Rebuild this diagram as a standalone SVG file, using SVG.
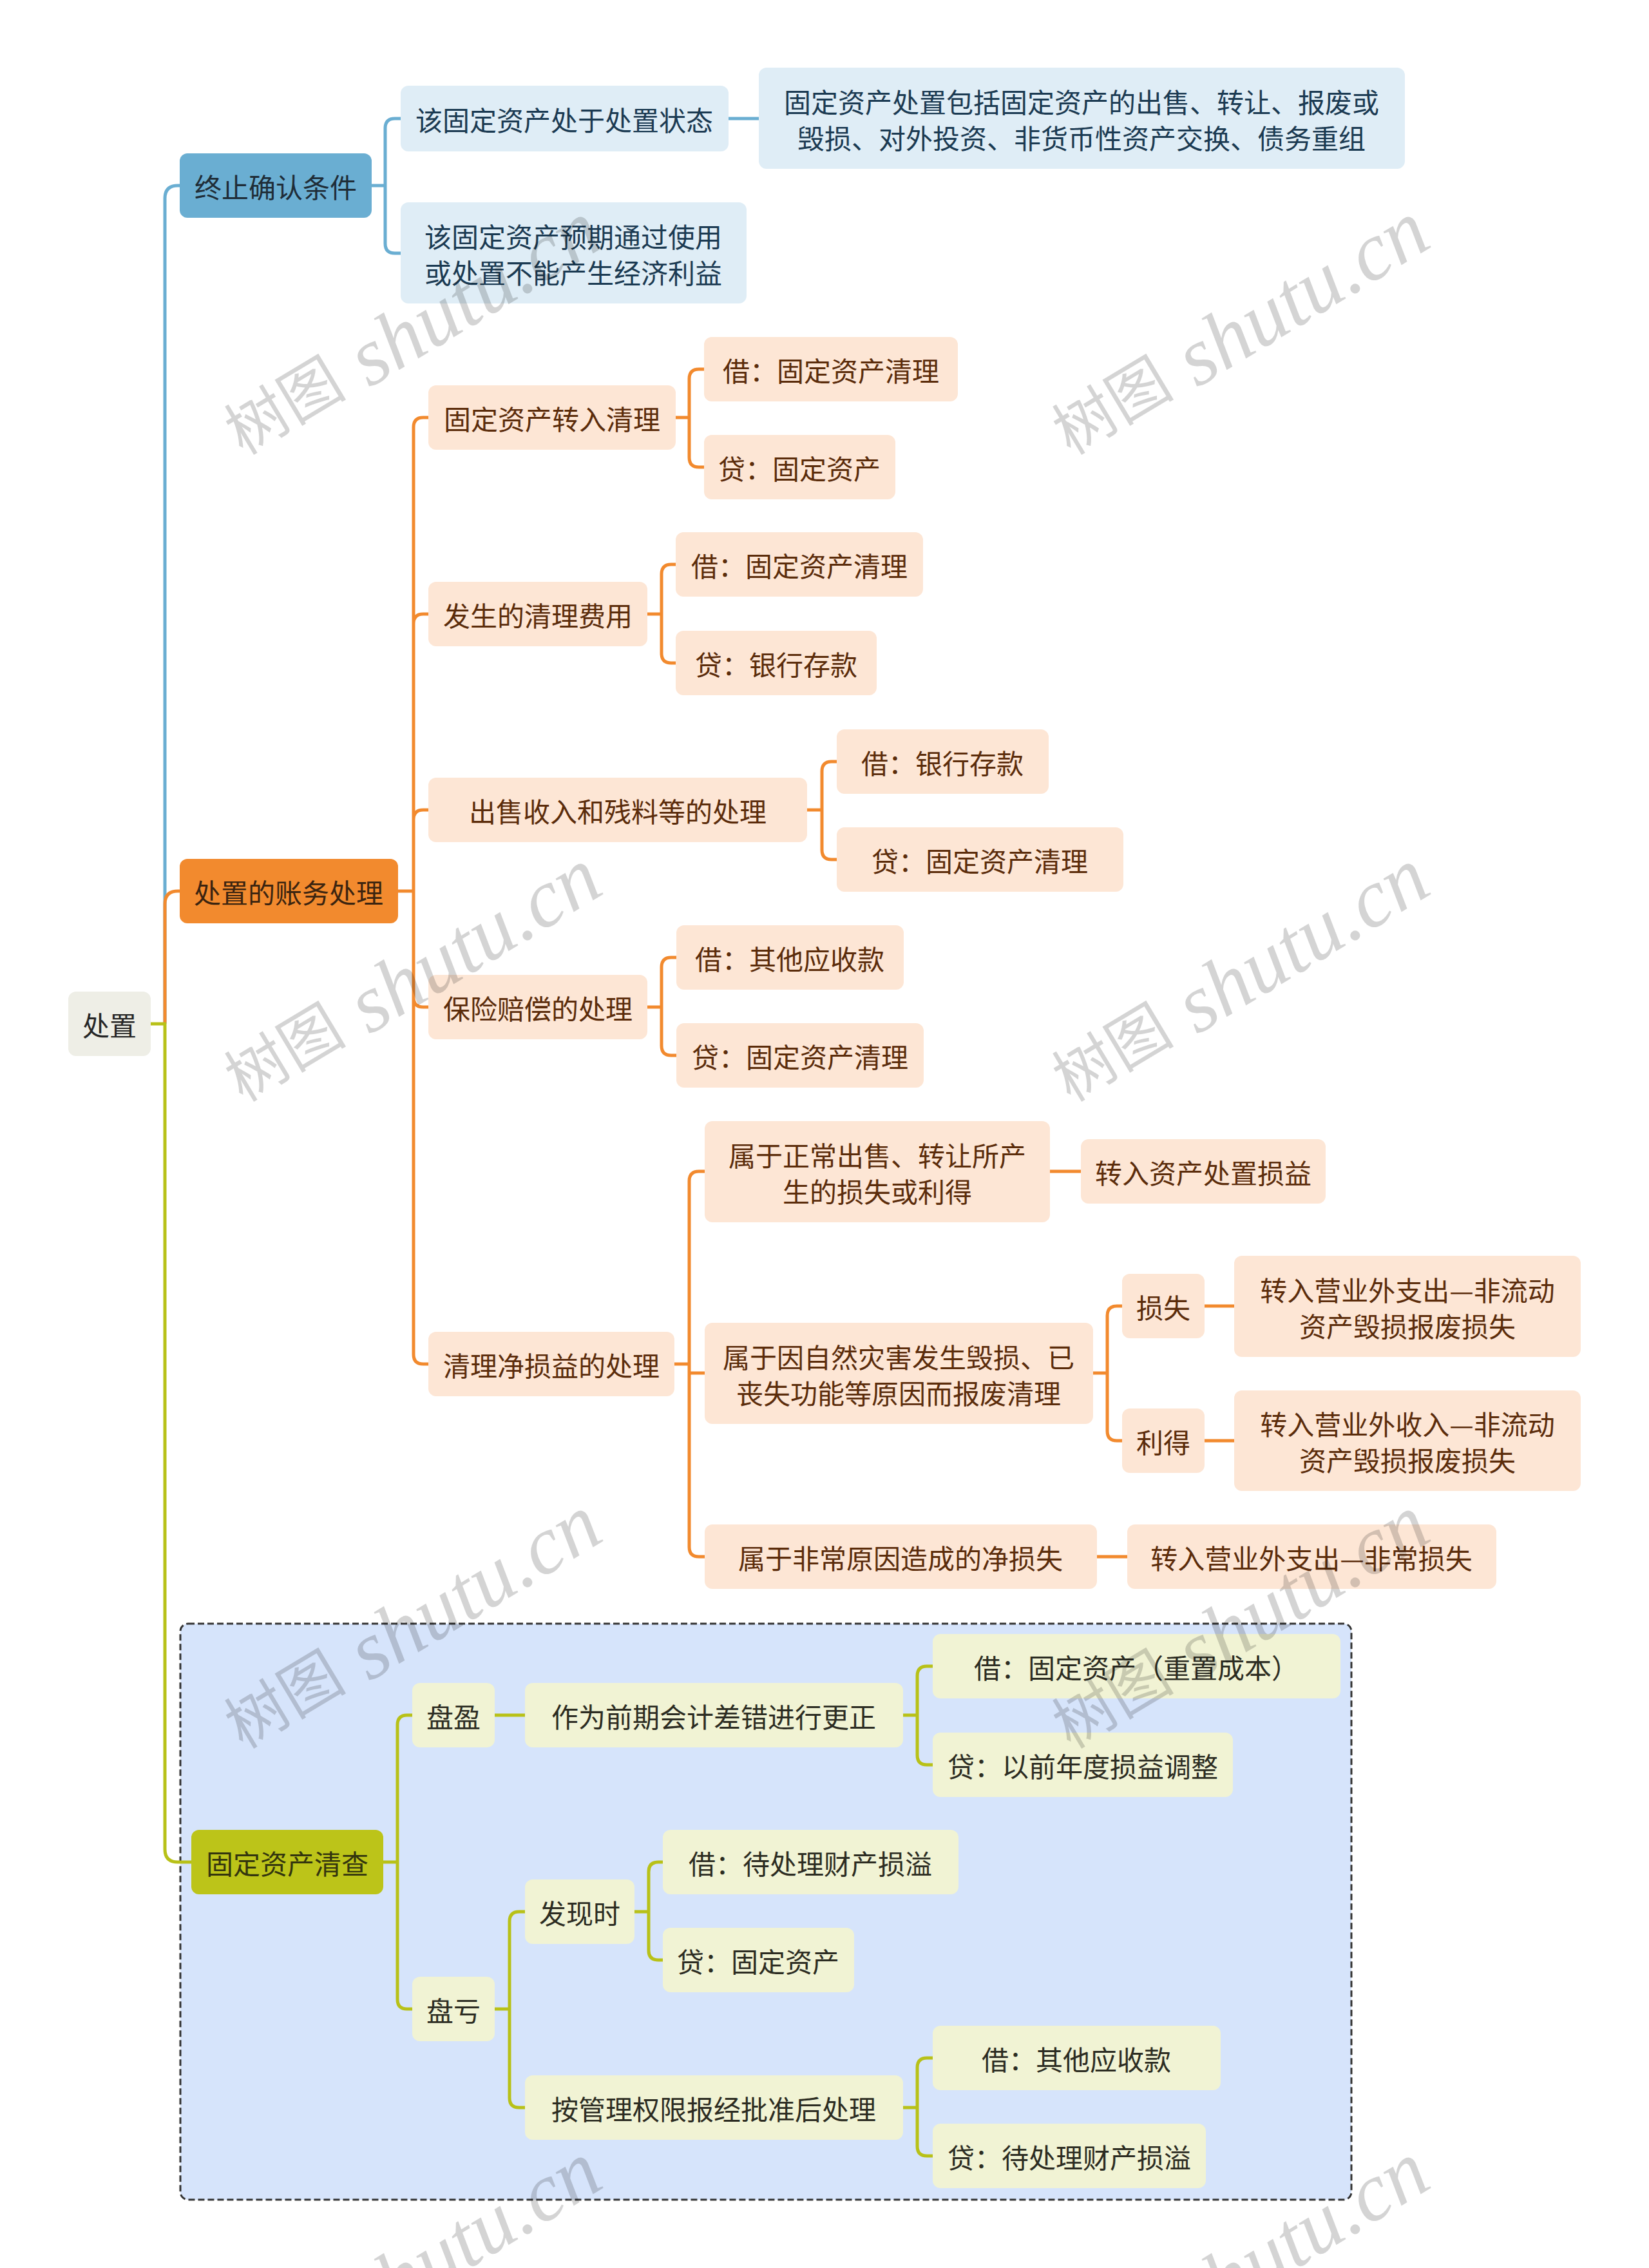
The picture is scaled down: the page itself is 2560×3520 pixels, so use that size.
<svg xmlns="http://www.w3.org/2000/svg" width="2560" height="3520" viewBox="0 0 2560 3520">
<style>
.t{font-family:"Noto Sans CJK SC","Noto Sans",sans-serif;font-size:42px;text-anchor:middle;dominant-baseline:central}
.root rect{fill:#eeeee6}.root text{fill:#262626}
.b1 rect{fill:#6aaed2}.b1 text{fill:#1f2d38}
.b2 rect{fill:#dfedf6}.b2 text{fill:#1b3a52}
.o1 rect{fill:#f28a2e}.o1 text{fill:#3b2410}
.o2 rect{fill:#fde6d5}.o2 text{fill:#5b2c0b}
.g1 rect{fill:#bcc419}.g1 text{fill:#33350e}
.g2 rect{fill:#f1f3d4}.g2 text{fill:#2c2c22}
.cb{fill:none;stroke:#6aaed2;stroke-width:5}
.co{fill:none;stroke:#f28a2e;stroke-width:5}
.cg{fill:none;stroke:#b8c118;stroke-width:5}
.wm{font-family:"Liberation Serif","Noto Sans CJK SC",serif;fill:#000;fill-opacity:0.17;text-anchor:middle;dominant-baseline:central}
</style>
<rect width="2560" height="3520" fill="#ffffff"/>
<rect id="group-box" x="280" y="2520" width="1818" height="894" rx="12" fill="#d6e4fb" stroke="#333" stroke-width="3" stroke-dasharray="10 5"/>
<g id="connectors">
<path class="cb" d="M256,1589 V308 Q256,288 276,288 H279"/>
<path class="co" d="M256,1589 V1403 Q256,1383 276,1383 H279"/>
<path class="cg" d="M256,1589 V2870 Q256,2890 276,2890 H297"/>
<path class="cg" d="M234,1589 H258"/>
<path class="cb" d="M577,288 H598 M598,288 V199 Q598,184 613,184 H622 M598,288 V378 Q598,393 613,393 H622"/>
<path class="cb" d="M1131,184 H1178"/>
<path class="co" d="M618,1383 H642 M642,1383 V663 Q642,648 657,648 H665 M642,1383 V968 Q642,953 657,953 H665 M642,1383 V1272 Q642,1257 657,1257 H665 M642,1383 V1548 Q642,1563 657,1563 H665 M642,1383 V2102 Q642,2117 657,2117 H665"/>
<path class="co" d="M1049,648 H1070 M1070,648 V588 Q1070,573 1085,573 H1093 M1070,648 V710 Q1070,725 1085,725 H1093"/>
<path class="co" d="M1005,953 H1027 M1027,953 V891 Q1027,876 1042,876 H1049 M1027,953 V1014 Q1027,1029 1042,1029 H1049"/>
<path class="co" d="M1253,1257 H1276 M1276,1257 V1197 Q1276,1182 1291,1182 H1299 M1276,1257 V1319 Q1276,1334 1291,1334 H1299"/>
<path class="co" d="M1005,1563 H1027 M1027,1563 V1501 Q1027,1486 1042,1486 H1050 M1027,1563 V1623 Q1027,1638 1042,1638 H1050"/>
<path class="co" d="M1047,2117 H1070 M1070,2117 V1833 Q1070,1818 1085,1818 H1094 M1070,2117 V2131 H1094 M1070,2117 V2401 Q1070,2416 1085,2416 H1094"/>
<path class="co" d="M1630,1818 H1678"/>
<path class="co" d="M1697,2131 H1719 M1719,2131 V2042 Q1719,2027 1734,2027 H1742 M1719,2131 V2221 Q1719,2236 1734,2236 H1742"/>
<path class="co" d="M1870,2027 H1916 M1870,2236 H1916"/>
<path class="co" d="M1703,2416 H1750"/>
<path class="cg" d="M595,2890 H617 M617,2890 V2677 Q617,2662 632,2662 H640 M617,2890 V3103 Q617,3118 632,3118 H640"/>
<path class="cg" d="M768,2662 H815"/>
<path class="cg" d="M1401,2662 H1424 M1424,2662 V2601 Q1424,2586 1439,2586 H1448 M1424,2662 V2724 Q1424,2739 1439,2739 H1448"/>
<path class="cg" d="M768,3118 H791 M791,3118 V2982 Q791,2967 806,2967 H815 M791,3118 V3256 Q791,3271 806,3271 H815"/>
<path class="cg" d="M985,2967 H1007 M1007,2967 V2905 Q1007,2890 1022,2890 H1029 M1007,2967 V3027 Q1007,3042 1022,3042 H1029"/>
<path class="cg" d="M1401,3271 H1424 M1424,3271 V3209 Q1424,3194 1439,3194 H1448 M1424,3271 V3331 Q1424,3346 1439,3346 H1448"/>
</g>
<g id="n-root" class="root"><rect x="106" y="1539" width="128" height="100" rx="12"/><text class="t" x="170" y="1589">处置</text></g>
<g id="n-zzqr" class="b1"><rect x="279" y="238" width="298" height="100" rx="12"/><text class="t" x="428" y="288">终止确认条件</text></g>
<g id="n-czzt" class="b2"><rect x="622" y="133" width="509" height="102" rx="12"/><text class="t" x="876" y="184">该固定资产处于处置状态</text></g>
<g id="n-czbk" class="b2"><rect x="1178" y="105" width="1003" height="157" rx="12"/><text class="t" x="1679" y="156">固定资产处置包括固定资产的出售、转让、报废或</text><text class="t" x="1679" y="212">毁损、对外投资、非货币性资产交换、债务重组</text></g>
<g id="n-yqjj" class="b2"><rect x="622" y="314" width="537" height="157" rx="12"/><text class="t" x="890" y="365">该固定资产预期通过使用</text><text class="t" x="890" y="421">或处置不能产生经济利益</text></g>
<g id="n-zwcl" class="o1"><rect x="279" y="1333" width="339" height="100" rx="12"/><text class="t" x="448" y="1383">处置的账务处理</text></g>
<g id="n-zrql" class="o2"><rect x="665" y="598" width="384" height="100" rx="12"/><text class="t" x="857" y="648">固定资产转入清理</text></g>
<g id="n-zrql-j" class="o2"><rect x="1093" y="523" width="394" height="100" rx="12"/><text class="t" x="1290" y="573">借：固定资产清理</text></g>
<g id="n-zrql-d" class="o2"><rect x="1093" y="675" width="297" height="100" rx="12"/><text class="t" x="1241" y="725">贷：固定资产</text></g>
<g id="n-qlfy" class="o2"><rect x="665" y="903" width="340" height="100" rx="12"/><text class="t" x="835" y="953">发生的清理费用</text></g>
<g id="n-qlfy-j" class="o2"><rect x="1049" y="826" width="384" height="100" rx="12"/><text class="t" x="1241" y="876">借：固定资产清理</text></g>
<g id="n-qlfy-d" class="o2"><rect x="1049" y="979" width="312" height="100" rx="12"/><text class="t" x="1205" y="1029">贷：银行存款</text></g>
<g id="n-cssr" class="o2"><rect x="665" y="1207" width="588" height="100" rx="12"/><text class="t" x="959" y="1257">出售收入和残料等的处理</text></g>
<g id="n-cssr-j" class="o2"><rect x="1299" y="1132" width="329" height="100" rx="12"/><text class="t" x="1463" y="1182">借：银行存款</text></g>
<g id="n-cssr-d" class="o2"><rect x="1299" y="1284" width="445" height="100" rx="12"/><text class="t" x="1521" y="1334">贷：固定资产清理</text></g>
<g id="n-bxpc" class="o2"><rect x="665" y="1513" width="340" height="100" rx="12"/><text class="t" x="835" y="1563">保险赔偿的处理</text></g>
<g id="n-bxpc-j" class="o2"><rect x="1050" y="1436" width="353" height="100" rx="12"/><text class="t" x="1226" y="1486">借：其他应收款</text></g>
<g id="n-bxpc-d" class="o2"><rect x="1050" y="1588" width="384" height="100" rx="12"/><text class="t" x="1242" y="1638">贷：固定资产清理</text></g>
<g id="n-jsy" class="o2"><rect x="665" y="2067" width="382" height="100" rx="12"/><text class="t" x="856" y="2117">清理净损益的处理</text></g>
<g id="n-zccs" class="o2"><rect x="1094" y="1740" width="536" height="157" rx="12"/><text class="t" x="1362" y="1791">属于正常出售、转让所产</text><text class="t" x="1362" y="1847">生的损失或利得</text></g>
<g id="n-zcsy" class="o2"><rect x="1678" y="1768" width="380" height="100" rx="12"/><text class="t" x="1868" y="1818">转入资产处置损益</text></g>
<g id="n-zrzh" class="o2"><rect x="1094" y="2053" width="603" height="157" rx="12"/><text class="t" x="1395" y="2104">属于因自然灾害发生毁损、已</text><text class="t" x="1395" y="2160">丧失功能等原因而报废清理</text></g>
<g id="n-ss" class="o2"><rect x="1742" y="1977" width="128" height="100" rx="12"/><text class="t" x="1806" y="2027">损失</text></g>
<g id="n-ss-zr" class="o2"><rect x="1916" y="1949" width="538" height="157" rx="12"/><text class="t" x="2185" y="2000">转入营业外支出—非流动</text><text class="t" x="2185" y="2056">资产毁损报废损失</text></g>
<g id="n-ld" class="o2"><rect x="1742" y="2186" width="128" height="100" rx="12"/><text class="t" x="1806" y="2236">利得</text></g>
<g id="n-ld-zr" class="o2"><rect x="1916" y="2158" width="538" height="156" rx="12"/><text class="t" x="2185" y="2208">转入营业外收入—非流动</text><text class="t" x="2185" y="2264">资产毁损报废损失</text></g>
<g id="n-fcyy" class="o2"><rect x="1094" y="2366" width="609" height="100" rx="12"/><text class="t" x="1398" y="2416">属于非常原因造成的净损失</text></g>
<g id="n-fcss" class="o2"><rect x="1750" y="2366" width="573" height="100" rx="12"/><text class="t" x="2036" y="2416">转入营业外支出—非常损失</text></g>
<g id="n-qc" class="g1"><rect x="297" y="2840" width="298" height="100" rx="12"/><text class="t" x="446" y="2890">固定资产清查</text></g>
<g id="n-py" class="g2"><rect x="640" y="2612" width="128" height="100" rx="12"/><text class="t" x="704" y="2662">盘盈</text></g>
<g id="n-qqcc" class="g2"><rect x="815" y="2612" width="587" height="100" rx="12"/><text class="t" x="1108" y="2662">作为前期会计差错进行更正</text></g>
<g id="n-py-j" class="g2"><rect x="1448" y="2536" width="633" height="100" rx="12"/><text class="t" x="1764" y="2586">借：固定资产（重置成本）</text></g>
<g id="n-py-d" class="g2"><rect x="1448" y="2689" width="466" height="100" rx="12"/><text class="t" x="1681" y="2739">贷：以前年度损益调整</text></g>
<g id="n-pk" class="g2"><rect x="640" y="3068" width="128" height="100" rx="12"/><text class="t" x="704" y="3118">盘亏</text></g>
<g id="n-fxs" class="g2"><rect x="815" y="2917" width="170" height="100" rx="12"/><text class="t" x="900" y="2967">发现时</text></g>
<g id="n-fxs-j" class="g2"><rect x="1029" y="2840" width="459" height="100" rx="12"/><text class="t" x="1258" y="2890">借：待处理财产损溢</text></g>
<g id="n-fxs-d" class="g2"><rect x="1029" y="2992" width="297" height="100" rx="12"/><text class="t" x="1177" y="3042">贷：固定资产</text></g>
<g id="n-glqx" class="g2"><rect x="815" y="3221" width="587" height="100" rx="12"/><text class="t" x="1108" y="3271">按管理权限报经批准后处理</text></g>
<g id="n-glqx-j" class="g2"><rect x="1448" y="3144" width="447" height="100" rx="12"/><text class="t" x="1671" y="3194">借：其他应收款</text></g>
<g id="n-glqx-d" class="g2"><rect x="1448" y="3296" width="424" height="100" rx="12"/><text class="t" x="1660" y="3346">贷：待处理财产损溢</text></g>
<g id="watermarks">
<text class="wm" x="640" y="512" transform="rotate(-31 640 512)"><tspan font-size="95">树图</tspan><tspan font-size="128" font-style="italic"> shutu.cn</tspan></text>
<text class="wm" x="1925" y="512" transform="rotate(-31 1925 512)"><tspan font-size="95">树图</tspan><tspan font-size="128" font-style="italic"> shutu.cn</tspan></text>
<text class="wm" x="640" y="1516" transform="rotate(-31 640 1516)"><tspan font-size="95">树图</tspan><tspan font-size="128" font-style="italic"> shutu.cn</tspan></text>
<text class="wm" x="1925" y="1516" transform="rotate(-31 1925 1516)"><tspan font-size="95">树图</tspan><tspan font-size="128" font-style="italic"> shutu.cn</tspan></text>
<text class="wm" x="640" y="2520" transform="rotate(-31 640 2520)"><tspan font-size="95">树图</tspan><tspan font-size="128" font-style="italic"> shutu.cn</tspan></text>
<text class="wm" x="1925" y="2520" transform="rotate(-31 1925 2520)"><tspan font-size="95">树图</tspan><tspan font-size="128" font-style="italic"> shutu.cn</tspan></text>
<text class="wm" x="640" y="3524" transform="rotate(-31 640 3524)"><tspan font-size="95">树图</tspan><tspan font-size="128" font-style="italic"> shutu.cn</tspan></text>
<text class="wm" x="1925" y="3524" transform="rotate(-31 1925 3524)"><tspan font-size="95">树图</tspan><tspan font-size="128" font-style="italic"> shutu.cn</tspan></text>
</g>
</svg>
